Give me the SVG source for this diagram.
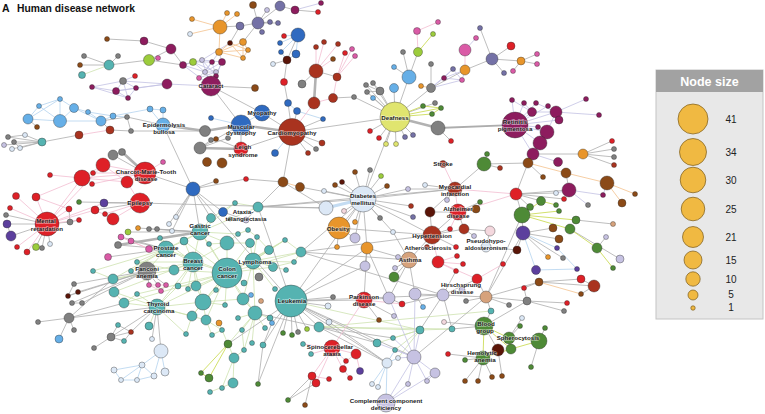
<svg xmlns="http://www.w3.org/2000/svg" width="765" height="414" viewBox="0 0 765 414">
<style>
.n circle{stroke:#2b2b2b;stroke-width:.5;stroke-opacity:.75}
.t{fill:#55b3b1}.r{fill:#de2027}.d{fill:#a9331f}.m{fill:#8d1c5e}.lb{fill:#66afe7}.b{fill:#2f6ac0}.y{fill:#e0e56f}.g{fill:#4e8a36}.br{fill:#8b4a17}.o{fill:#e8952b}.lv{fill:#c6c2e2}.pb{fill:#dce8f6}.gr{fill:#808080}.dm{fill:#5a1508}.pk{fill:#da5aa6}.lm{fill:#9ccc3c}.pu{fill:#5c3f9d}.tn{fill:#d6a27c}.sl{fill:#7471a6}.pp{fill:#f4d8de}
#edges path{fill:none;stroke-linecap:round}
.eg{stroke:#adadad;stroke-width:.8}
.egt{stroke:#b2b2b2;stroke-width:2.6}
.eb{stroke:#b4d3ef;stroke-width:.8}
.ebt{stroke:#c4dcf2;stroke-width:3.2}
.el{stroke:#c3c1e3;stroke-width:.8}
.ep{stroke:#f3bdd1;stroke-width:.8}
.eo{stroke:#f5c89a;stroke-width:.9}
.ey{stroke:#cddc5a;stroke-width:.9}
.ec{stroke:#cbe0ab;stroke-width:.75}
.lbl{font-family:"Liberation Sans",Arial,sans-serif;font-weight:bold;font-size:6.2px;fill:#1c1c1c;text-anchor:middle;stroke:#fff;stroke-width:1.4px;stroke-opacity:.5;paint-order:stroke}
.lc{fill:#f0b942;stroke:#7a5a1a;stroke-width:.7}
.ln{font-family:"Liberation Sans",Arial,sans-serif;font-size:10px;fill:#222;text-anchor:middle}
</style>
<rect width="765" height="414" fill="#fff"/>
<g id="title" font-family="'Liberation Sans',Arial,sans-serif" font-weight="bold" fill="#111">
<text x="2" y="12" font-size="10.5">A</text>
<text x="17" y="12" font-size="10.3">Human disease network</text>
</g>
<g id="edges">
<path class="ec" d="M227 273L193 262M227 273L253 261M227 273L227 243M227 273L250 243M227 273L203 302M227 273L196 286M227 273L174 270M227 273L243 299M227 273L255 313M227 273L273 267M227 273L209 244M227 273L184 241M227 273L200 232M227 273L166 249M227 273L244 283M227 273L216 290M227 273L225 305M227 273L269 250M227 273L285 240M227 273L301 252M227 273L157 307M227 273L137 294M227 273L124 303M227 273L206 320M227 273L192 316M193 262L166 249M193 262L200 232M193 262L174 270M193 262L184 241M193 262L178 286M193 262L188 289M193 262L203 302M193 262L157 307M193 262L227 243M193 262L113 279M193 262L114 292M193 262L160 238M193 262L137 262M253 261L250 243M253 261L269 250M253 261L273 267M253 261L294 262M253 261L286 270M253 261L301 252M253 261L285 240M253 261L257 237M253 261L243 299M253 261L255 313M253 261L275 289M200 232L211 218M200 232L227 243M200 232L238 234M200 232L184 241M200 232L209 244M200 232L235 203M200 232L258 207M200 232L166 249M166 249L160 238M166 249L137 262M166 249L131 271M166 249L113 279M166 249L93 271M166 249L184 241M166 249L147 271M157 307L149 326M157 307L124 303M157 307L137 294M157 307L114 292M157 307L192 316M157 307L186 334M157 307L206 320M157 307L203 302M157 307L178 286M203 302L192 316M203 302L206 320M203 302L225 305M203 302L216 290M203 302L196 286M255 313L265 328M255 313L270 318M255 313L242 330M255 313L238 318M255 313L244 350M255 313L252 343M113 279L93 271M114 292L124 303M124 303L137 294M242 330L244 350M222 330L212 335M206 320L222 330M206 320L212 335M244 350L234 358M186 334L192 316M211 218L235 203M235 203L258 207M227 243L238 234M238 234L248 230M248 230L257 237M257 237L269 250M269 250L285 240M285 240L301 252M227 243L250 243M319 327L420 330M319 327L452 329M319 327L491 311M291 301L420 330M377 343L420 330M393 338L420 330M395 350L420 330M398 358L420 330M420 330L452 329M228 344L234 358M234 358L233 383M234 358L222 388M233 383L210 392M228 344L255 313M228 344L219 323M109 65L82 75M174 270L113 279M174 270L137 262M196 286L178 286M193 262L196 286M203 302L243 299M243 299L255 313M227 243L209 244M301 252L294 262M273 267L294 262"/>
<path class="eg" d="M109 65L84 56M109 65L80 65M109 65L118 56M109 65L149 60M149 60L171 49M149 60L158 58M149 60L183 65M144 41L107 39M144 41L171 49M171 49L183 65M183 65L193 62M211 86L255 88M211 86L262 113M211 86L241 125M258 23L240 26M258 23L280 6M258 23L253 5M258 23L267 10M258 23L270 22M258 23L262 32M258 23L278 23M258 23L243 42M280 6L295 10M295 10L318 12M240 26L230 43M220 27L240 26M101 121L127 117M127 117L163 125M127 117L131 131M131 131L110 130M110 130L101 121M28 119L37 127M131 131L205 131M42 142L8 137M42 142L25 135M42 142L14 142M42 142L12 149M42 142L20 148M42 142L4 145M8 137L25 135M14 142L20 148M79 135L42 142M262 113L292 132M200 148L211 140M200 148L228 138M241 149L216 139M241 149L241 125M200 148L241 125M241 149L292 132M287 60L273 64M287 60L284 82M284 82L288 103M288 103L292 132M297 111L292 132M323 119L292 132M298 35L287 60M316 71L302 84M316 71L337 77M333 98L354 97M354 97L395 117M292 132L395 117M292 132L322 143M292 132L316 149M292 132L308 153M292 132L283 182M395 117L380 91M395 117L366 85M395 117L373 83M395 117L367 92M395 117L373 98M395 117L394 88M395 117L409 77M409 77L403 52M409 77L418 52M409 77L394 67M380 91L366 85M380 91L373 83M380 91L367 92M395 117L431 88M431 88L431 64M431 88L465 70M465 70L492 59M395 117L435 103M395 117L370 131M395 117L379 138M395 117L386 144M395 117L396 144M395 117L405 137M395 117L413 135M438 128L451 141M395 117L363 199M492 59L480 28M492 59L504 73M492 59L511 46M492 59L521 61M521 61L537 54M521 61L537 64M521 61L513 71M533 154L583 154M583 154L612 141M583 154L614 149M583 154L614 157M583 154L614 165M528 163L533 154M528 163L484 164M528 163L516 194M528 163L543 177M516 194L556 193M516 194L541 201M516 194L564 199M516 194L530 207M516 194L522 215M566 173L569 190M569 190L516 194M522 215L523 233M523 233L553 228M523 233L559 239M523 233L517 250M523 233L548 257M523 233L563 258M570 229L620 259M576 220L613 224M597 248L606 237M484 164L487 154M484 164L500 168M484 164L455 189M455 189L430 212M455 189L363 199M455 189L425 185M455 189L408 189M455 189L447 200M458 212L476 209M458 212L480 202M458 212L464 229M458 212L430 212M458 212L432 235M432 235L430 212M432 235L450 229M432 235L363 199M432 235L339 228M432 235L456 247M432 235L464 229M464 229L474 236M464 229L490 231M490 231L486 247M486 247L517 250M432 235L409 260M409 260L395 268M409 260L394 277M409 260L389 298M409 260L415 294M409 260L367 248M477 279L486 297M486 297L443 295M443 295L415 294M486 297L466 301M486 297L491 311M486 297L509 305M486 297L522 215M486 297L539 282M486 297L527 301M486 297L523 233M443 295L452 329M443 295L420 330M443 295L402 304M415 294L423 307M389 298L402 304M484 326L491 311M484 326L452 329M484 326L444 322M484 326L527 301M527 301L524 288M527 301L567 303M527 301L564 311M539 282L581 279M539 282L594 286M581 279L594 286M594 286L581 294M539 282L524 288M483 358L465 360M483 358L448 354M483 358L465 381M483 358L478 381M483 358L492 377M498 350L502 376M483 358L498 350M484 326L498 350M539 341L531 367M509 338L520 326M509 338L522 318M539 341L545 328M443 295L477 279M443 295L456 271M363 199L324 191M363 199L335 185M363 199L342 182M363 199L355 172M363 199L370 170M363 199L381 176M363 199L387 186M363 199L344 211M363 199L339 228M363 199L355 222M363 199L380 218M363 199L367 248M363 199L355 238M363 199L408 189M363 199L411 206M363 199L413 217M363 199L393 232M363 199L300 187M363 199L258 207M363 199L301 252M363 199L291 301M326 208L258 207M326 208L283 182M339 228L337 247M339 228L355 238M367 248L365 266M367 248L389 298M367 248L291 301M365 266L291 301M398 257L409 260M393 232L409 260M145 173L113 155M113 155L122 152M145 173L193 189M193 189L216 181M193 189L246 179M246 179L283 182M193 189L200 232M193 189L211 218M193 189L172 231M193 189L176 217M193 189L169 224M193 189L291 301M140 203L104 203M140 203L79 202M140 203L326 208M140 203L95 210M47 224L6 215M47 224L7 224M47 224L11 236M47 224L36 247M47 224L42 248M47 224L50 244M47 224L70 222M70 222L79 220M70 222L69 209M11 236L7 224M200 232L149 229M200 232L157 229M200 232L138 228M200 232L128 232M166 249L121 237M166 249L131 241M166 249L149 249M166 249L108 257M166 249L118 245M147 271L74 284M147 271L78 292M147 271L68 296M147 271L72 303M147 271L82 303M68 296L78 292M72 303L82 303M74 284L68 296M147 271L149 285M147 271L158 285M147 271L166 285M113 279L69 318M124 303L69 318M157 307L69 318M157 307L111 337M69 318L38 322M69 318L74 330M69 318L59 339M111 337L94 348M111 337L131 332M111 337L118 325M111 337L124 341M131 332L118 325M124 341L131 332M157 307L131 332M157 307L161 351M157 307L152 339M291 301L333 297M291 301L328 306M291 301L364 300M291 301L329 322M291 301L319 327M291 301L283 333M291 301L292 335M291 301L298 332M291 301L307 329M291 301L272 323M291 301L263 345M291 301L258 384M291 301L228 344M291 301L377 343M291 301L387 363M291 301L414 357M291 301L258 207M319 327L377 343M319 327L393 338M319 327L387 363M329 322L387 363M272 323L263 345M263 345L258 384M364 300L379 320M364 300L394 316M364 300L389 298M364 300L367 248M312 376L288 400M312 376L305 405M316 383L288 400M246 220L223 212M246 220L258 207M223 212L193 189M258 207L283 182M301 252L409 260M301 252L443 295M291 301L443 295M258 207L455 189M301 252L432 235M414 357L486 297M255 313L319 327M163 125L193 189"/>
<path class="egt" d="M163 125L205 131M205 131L241 125M241 125L292 132M200 148L241 149M145 173L122 152M200 232L118 245M395 117L438 128M316 71L314 103"/>
<path class="eg" style="stroke-width:1.8" d="M438 128L515 125"/>
<path class="eb" d="M60 121L28 119M60 121L74 108M60 121L101 121M60 121L39 106M60 121L60 99M74 108L60 99M74 108L101 121M74 108L88 112M101 121L88 112M101 121L113 116M28 119L39 106M39 106L60 99M113 116L150 109M150 109L163 110M163 110L163 125M150 109L163 125M113 116L127 117M88 112L113 116M28 119L60 99M211 118L241 125M241 125L262 113M298 35L280 43M298 35L281 52M298 35L296 54M298 35L284 36M296 54L287 60M281 52L287 60M292 132L275 153M523 233L557 248M523 233L536 270M536 270L577 269M557 248L577 269M387 363L372 384M387 363L378 387M387 363L386 403M387 363L398 358M387 363L395 350M161 351L142 365M161 351L154 376M161 351L165 372M142 365L114 370M142 365L121 380M142 365L137 380M154 376L137 380M114 370L121 380M121 380L137 380M142 365L154 376M288 103L297 111M297 111L323 119"/>
<path class="ebt" d="M363 199L326 208"/>
<path class="el" d="M183 65L202 60M183 65L205 72M193 62L212 62M193 62L216 72M202 60L222 62M202 60L216 76M212 62L205 72M212 62L199 78M222 62L205 72M222 62L211 86M205 72L216 72M199 78L216 72M183 65L211 86M202 60L211 86M216 76L222 62M193 62L205 72M212 62L216 76M222 62L219 52M212 62L219 52M202 60L230 43M123 81L92 87M123 81L116 91M123 81L136 88M123 81L128 98M123 81L167 84M116 91L136 88M116 91L128 98M136 88L128 98M92 87L116 91M92 87L128 98M167 84L116 91M167 84L211 86M135 76L123 81M136 88L167 84M295 10L321 3M431 88L444 78M431 88L453 69M431 88L462 80M444 78L453 69M453 69L462 80M444 78L462 80M444 78L465 70M462 80L465 70M465 50L476 38M515 125L556 112M515 125L532 112M515 125L547 132M515 125L559 120M515 125L512 100M515 125L524 103M515 125L536 103M515 125L548 106M515 125L538 127M556 112L586 99M556 112L599 115M547 132L556 112M532 112L556 112M515 125L540 143M515 125L533 154M540 143L533 154M533 154L558 162M540 143L547 132M512 100L532 112M524 103L532 112M536 103L556 112M569 190L603 195M569 190L588 205M569 190L556 193M607 183L603 195M414 357L377 343M414 357L393 338M414 357L395 350M414 357L398 358M414 357L435 373M414 357L408 384M414 357L427 381M414 357L386 403M435 373L386 403M408 384L386 403M427 381L435 373M414 357L420 330M414 357L415 294M414 357L389 298"/>
<path class="ep" d="M110 130L79 135M316 71L316 47M316 71L324 42M316 71L338 44M337 77L345 53M337 77L352 49M337 77L355 56M316 71L333 59M314 103L292 132M314 103L333 98M333 98L337 77M418 52L417 31M417 31L438 22M465 70L465 50M516 194L455 189M516 194L458 212M432 235L438 262M438 262L457 256M438 262L463 264M438 262L456 271M438 262L477 279M477 279L503 264M455 189L443 164M458 212L450 229M455 189L458 212M145 173L127 182M145 173L82 178M145 173L103 165M145 173L93 173M145 173L92 184M82 178L50 175M145 173L163 162M103 165L82 178M127 182L82 178M127 182L103 165M140 203L113 219M140 203L105 214M113 219L95 210M140 203L127 182M47 224L36 197M47 224L16 196M47 224L10 208M47 224L17 247M47 224L27 252M47 224L69 209M47 224L79 220M47 224L95 210M47 224L104 203M36 197L82 178M47 224L82 178M47 224L103 165M36 197L69 209M149 249L131 241M121 237L131 241M149 249L121 237M149 285L158 285M158 285L166 285M149 285L161 291M166 285L161 291M364 300L332 348M364 300L402 304M332 348L356 354M332 348L303 344M332 348L311 354M332 348L346 361M332 348L343 369M332 348L312 376M332 348L316 383M356 354L360 371M356 354L346 361M312 376L329 379M343 369L350 378M346 361L343 369"/>
<path class="eo" d="M220 27L192 19M220 27L190 34M220 27L227 13M220 27L237 14M220 27L219 52M219 52L243 42M219 52L243 58M219 52L248 50M243 42L248 50M243 42L243 58M248 50L243 58M230 43L243 58M230 43L248 50M219 52L230 43M528 163L566 173M566 173L607 183M607 183L635 194M607 183L622 203M539 282L581 294M283 182L300 187M431 88L421 86"/>
<path class="ey" d="M395 117L423 106M395 117L441 108M395 117L432 114M423 106L441 108M441 108L432 114M418 52L433 34M522 215L541 201M522 215L530 207M522 215L559 211M522 215L576 220M522 215L570 229M570 229L597 248M597 248L613 268M541 201L556 205M484 326L509 338M484 326L511 349M509 338L539 341M539 341L511 349M484 326L483 358M509 338L511 349M483 358L511 349M228 344L201 373M228 344L209 378M201 373L209 378"/>
</g>
<g id="nodes" class="n">
<g id="n1"><circle class="br" cx="107" cy="39" r="2.5"/></g>
<g id="n2"><circle class="m" cx="144" cy="41" r="4"/></g>
<g id="n3"><circle class="m" cx="171" cy="49" r="5"/></g>
<g id="n4"><circle class="lm" cx="149" cy="60" r="5.5"/></g>
<g id="n5"><circle class="pk" cx="158" cy="58" r="2.5"/></g>
<g id="n6"><circle class="t" cx="109" cy="65" r="5"/></g>
<g id="n7"><circle class="gr" cx="84" cy="56" r="2.5"/></g>
<g id="n8"><circle class="br" cx="80" cy="65" r="2.5"/></g>
<g id="n9"><circle class="gr" cx="118" cy="56" r="2.5"/></g>
<g id="n10"><circle class="t" cx="82" cy="75" r="3.5"/></g>
<g id="n11"><circle class="m" cx="183" cy="65" r="3.5"/></g>
<g id="n12"><circle class="lm" cx="193" cy="62" r="3.5"/></g>
<g id="n13"><circle class="lv" cx="202" cy="60" r="2.5"/></g>
<g id="n14"><circle class="m" cx="212" cy="62" r="2.5"/></g>
<g id="n15"><circle class="m" cx="222" cy="62" r="3.5"/></g>
<g id="n16"><circle class="lv" cx="205" cy="72" r="2.5"/></g>
<g id="n17"><circle class="lv" cx="216" cy="72" r="2.5"/></g>
<g id="n18"><circle class="m" cx="216" cy="76" r="2.5"/></g>
<g id="n19"><circle class="pk" cx="199" cy="78" r="2.5"/></g>
<g id="n21"><circle class="gr" cx="123" cy="81" r="3.5"/></g>
<g id="n22"><circle class="r" cx="135" cy="76" r="2.5"/></g>
<g id="n23"><circle class="m" cx="92" cy="87" r="2.5"/></g>
<g id="n24"><circle class="m" cx="116" cy="91" r="3.5"/></g>
<g id="n25"><circle class="m" cx="136" cy="88" r="2.5"/></g>
<g id="n26"><circle class="m" cx="128" cy="98" r="2.5"/></g>
<g id="n27"><circle class="m" cx="167" cy="84" r="5"/></g>
<g id="n28"><circle class="o" cx="220" cy="27" r="7"/></g>
<g id="n29"><circle class="o" cx="192" cy="19" r="2.5"/></g>
<g id="n30"><circle class="pb" cx="190" cy="34" r="2.5"/></g>
<g id="n31"><circle class="o" cx="227" cy="13" r="2.5"/></g>
<g id="n32"><circle class="o" cx="237" cy="14" r="2.5"/></g>
<g id="n33"><circle class="o" cx="219" cy="52" r="3.5"/></g>
<g id="n34"><circle class="o" cx="243" cy="42" r="3.5"/></g>
<g id="n35"><circle class="dm" cx="230" cy="43" r="2.5"/></g>
<g id="n36"><circle class="o" cx="248" cy="50" r="2.5"/></g>
<g id="n37"><circle class="o" cx="243" cy="58" r="2.5"/></g>
<g id="n39"><circle class="sl" cx="240" cy="26" r="4"/></g>
<g id="n40"><circle class="sl" cx="258" cy="23" r="6"/></g>
<g id="n41"><circle class="sl" cx="280" cy="6" r="5"/></g>
<g id="n42"><circle class="m" cx="295" cy="10" r="4"/></g>
<g id="n43"><circle class="r" cx="318" cy="12" r="2.5"/></g>
<g id="n44"><circle class="m" cx="321" cy="3" r="2.5"/></g>
<g id="n45"><circle class="br" cx="253" cy="5" r="3.5"/></g>
<g id="n46"><circle class="lv" cx="267" cy="10" r="2.5"/></g>
<g id="n47"><circle class="sl" cx="270" cy="22" r="2.5"/></g>
<g id="n47b"><circle class="sl" cx="278" cy="23" r="2.5"/></g>
<g id="n48"><circle class="sl" cx="262" cy="32" r="2.5"/></g>
<g id="n49"><circle class="br" cx="255" cy="88" r="3.5"/></g>
<g id="n50"><circle class="lb" cx="60" cy="121" r="6.5"/></g>
<g id="n51"><circle class="lb" cx="28" cy="119" r="5"/></g>
<g id="n52"><circle class="lb" cx="74" cy="108" r="4.5"/></g>
<g id="n53"><circle class="lb" cx="101" cy="121" r="5"/></g>
<g id="n54"><circle class="lb" cx="39" cy="106" r="2.5"/></g>
<g id="n55"><circle class="lb" cx="60" cy="99" r="2.5"/></g>
<g id="n56"><circle class="lb" cx="88" cy="112" r="2.5"/></g>
<g id="n57"><circle class="lb" cx="113" cy="116" r="3"/></g>
<g id="n58"><circle class="lb" cx="150" cy="109" r="3"/></g>
<g id="n59"><circle class="lb" cx="163" cy="110" r="3"/></g>
<g id="n60"><circle class="gr" cx="127" cy="117" r="2.5"/></g>
<g id="n61"><circle class="br" cx="37" cy="127" r="2.5"/></g>
<g id="n62"><circle class="d" cx="110" cy="130" r="4"/></g>
<g id="n64"><circle class="gr" cx="131" cy="131" r="2.5"/></g>
<g id="n65"><circle class="gr" cx="205" cy="131" r="5.5"/></g>
<g id="n66"><circle class="b" cx="211" cy="118" r="2.5"/></g>
<g id="n69"><circle class="d" cx="79" cy="135" r="4"/></g>
<g id="n70"><circle class="gr" cx="8" cy="137" r="2.5"/></g>
<g id="n71"><circle class="pb" cx="25" cy="135" r="2.5"/></g>
<g id="n72"><circle class="lv" cx="4" cy="145" r="2.5"/></g>
<g id="n73"><circle class="pb" cx="12" cy="149" r="2.5"/></g>
<g id="n74"><circle class="pb" cx="20" cy="148" r="2.5"/></g>
<g id="n75"><circle class="gr" cx="14" cy="142" r="2.5"/></g>
<g id="n76"><circle class="t" cx="42" cy="142" r="4"/></g>
<g id="n80"><circle class="gr" cx="200" cy="148" r="6"/></g>
<g id="n81"><circle class="br" cx="207" cy="162" r="4.5"/></g>
<g id="n82"><circle class="br" cx="222" cy="163" r="5"/></g>
<g id="n84"><circle class="gr" cx="211" cy="140" r="2.5"/></g>
<g id="n85"><circle class="gr" cx="228" cy="138" r="2.5"/></g>
<g id="n86"><circle class="br" cx="216" cy="139" r="2.5"/></g>
<g id="n90"><circle class="b" cx="298" cy="35" r="7"/></g>
<g id="n91"><circle class="b" cx="280" cy="43" r="2.5"/></g>
<g id="n92"><circle class="b" cx="281" cy="52" r="2.5"/></g>
<g id="n93"><circle class="b" cx="296" cy="54" r="4"/></g>
<g id="n94"><circle class="r" cx="284" cy="36" r="2.5"/></g>
<g id="n95"><circle class="dm" cx="287" cy="60" r="4"/></g>
<g id="n96"><circle class="pb" cx="273" cy="64" r="2.5"/></g>
<g id="n97"><circle class="r" cx="284" cy="82" r="3.5"/></g>
<g id="n98"><circle class="d" cx="316" cy="71" r="7"/></g>
<g id="n99"><circle class="d" cx="337" cy="77" r="4"/></g>
<g id="n100"><circle class="d" cx="314" cy="103" r="6"/></g>
<g id="n101"><circle class="d" cx="333" cy="98" r="4.5"/></g>
<g id="n102"><circle class="d" cx="316" cy="47" r="2.5"/></g>
<g id="n103"><circle class="d" cx="324" cy="42" r="2.5"/></g>
<g id="n104"><circle class="d" cx="338" cy="44" r="2.5"/></g>
<g id="n105"><circle class="r" cx="345" cy="53" r="2.5"/></g>
<g id="n106"><circle class="pk" cx="352" cy="49" r="2.5"/></g>
<g id="n107"><circle class="pk" cx="355" cy="56" r="2.5"/></g>
<g id="n108"><circle class="br" cx="333" cy="59" r="2.5"/></g>
<g id="n109"><circle class="gr" cx="302" cy="84" r="4"/></g>
<g id="n110"><circle class="gr" cx="354" cy="97" r="2.5"/></g>
<g id="n111"><circle class="b" cx="288" cy="103" r="3.5"/></g>
<g id="n112"><circle class="b" cx="297" cy="111" r="3.5"/></g>
<g id="n113"><circle class="b" cx="323" cy="119" r="2.5"/></g>
<g id="n115"><circle class="d" cx="322" cy="143" r="3"/></g>
<g id="n116"><circle class="gr" cx="316" cy="149" r="2.5"/></g>
<g id="n117"><circle class="d" cx="308" cy="153" r="2.5"/></g>
<g id="n118"><circle class="b" cx="275" cy="153" r="3.5"/></g>
<g id="n121"><circle class="lb" cx="409" cy="77" r="7"/></g>
<g id="n122"><circle class="lb" cx="394" cy="88" r="4.5"/></g>
<g id="n123"><circle class="gr" cx="380" cy="91" r="4"/></g>
<g id="n124"><circle class="gr" cx="366" cy="85" r="2.5"/></g>
<g id="n125"><circle class="gr" cx="373" cy="83" r="2.5"/></g>
<g id="n126"><circle class="gr" cx="367" cy="92" r="2.5"/></g>
<g id="n127"><circle class="lb" cx="373" cy="98" r="2.5"/></g>
<g id="n128"><circle class="lb" cx="394" cy="67" r="2.5"/></g>
<g id="n129"><circle class="lm" cx="418" cy="52" r="4.5"/></g>
<g id="n130"><circle class="gr" cx="403" cy="52" r="2.5"/></g>
<g id="n131"><circle class="pk" cx="417" cy="31" r="3.5"/></g>
<g id="n132"><circle class="lm" cx="433" cy="34" r="2.5"/></g>
<g id="n133"><circle class="pk" cx="438" cy="22" r="2.5"/></g>
<g id="n134"><circle class="gr" cx="431" cy="88" r="4.5"/></g>
<g id="n135"><circle class="gr" cx="431" cy="64" r="2.5"/></g>
<g id="n136"><circle class="o" cx="421" cy="86" r="2.5"/></g>
<g id="n137"><circle class="gr" cx="435" cy="103" r="2.5"/></g>
<g id="n138"><circle class="g" cx="423" cy="106" r="2.5"/></g>
<g id="n139"><circle class="g" cx="441" cy="108" r="2.5"/></g>
<g id="n140"><circle class="g" cx="432" cy="114" r="2.5"/></g>
<g id="n141"><circle class="gr" cx="438" cy="128" r="7"/></g>
<g id="n142"><circle class="m" cx="444" cy="78" r="2.5"/></g>
<g id="n143"><circle class="sl" cx="453" cy="69" r="2.5"/></g>
<g id="n144"><circle class="pk" cx="462" cy="80" r="2.5"/></g>
<g id="n145"><circle class="o" cx="465" cy="70" r="5"/></g>
<g id="n146"><circle class="pk" cx="465" cy="50" r="6"/></g>
<g id="n147"><circle class="pk" cx="476" cy="38" r="2.5"/></g>
<g id="n148"><circle class="sl" cx="480" cy="28" r="2.5"/></g>
<g id="n149"><circle class="sl" cx="492" cy="59" r="6"/></g>
<g id="n150"><circle class="sl" cx="504" cy="73" r="2.5"/></g>
<g id="n151"><circle class="r" cx="511" cy="46" r="4"/></g>
<g id="n152"><circle class="o" cx="521" cy="61" r="4"/></g>
<g id="n153"><circle class="pk" cx="537" cy="54" r="2.5"/></g>
<g id="n154"><circle class="pk" cx="537" cy="64" r="2.5"/></g>
<g id="n155"><circle class="pk" cx="513" cy="71" r="2.5"/></g>
<g id="n157"><circle class="r" cx="370" cy="131" r="2.5"/></g>
<g id="n158"><circle class="r" cx="379" cy="138" r="2.5"/></g>
<g id="n159"><circle class="y" cx="386" cy="144" r="2.5"/></g>
<g id="n160"><circle class="y" cx="396" cy="144" r="2.5"/></g>
<g id="n161"><circle class="sl" cx="405" cy="137" r="2.5"/></g>
<g id="n162"><circle class="sl" cx="413" cy="135" r="2.5"/></g>
<g id="n163"><circle class="r" cx="451" cy="141" r="2.5"/></g>
<g id="n171"><circle class="m" cx="556" cy="112" r="6"/></g>
<g id="n172"><circle class="m" cx="532" cy="112" r="4.5"/></g>
<g id="n173"><circle class="m" cx="547" cy="132" r="7"/></g>
<g id="n174"><circle class="m" cx="559" cy="120" r="4"/></g>
<g id="n175"><circle class="m" cx="512" cy="100" r="2.5"/></g>
<g id="n176"><circle class="m" cx="524" cy="103" r="2.5"/></g>
<g id="n177"><circle class="m" cx="536" cy="103" r="2.5"/></g>
<g id="n178"><circle class="m" cx="548" cy="106" r="2.5"/></g>
<g id="n179"><circle class="m" cx="538" cy="127" r="2.5"/></g>
<g id="n180"><circle class="m" cx="586" cy="99" r="2.5"/></g>
<g id="n181"><circle class="m" cx="599" cy="115" r="2.5"/></g>
<g id="n182"><circle class="m" cx="540" cy="143" r="7"/></g>
<g id="n183"><circle class="m" cx="533" cy="154" r="6"/></g>
<g id="n184"><circle class="m" cx="558" cy="162" r="4.5"/></g>
<g id="n185"><circle class="br" cx="528" cy="163" r="5"/></g>
<g id="n186"><circle class="o" cx="583" cy="154" r="5"/></g>
<g id="n187"><circle class="r" cx="612" cy="141" r="2.5"/></g>
<g id="n188"><circle class="gr" cx="614" cy="149" r="2.5"/></g>
<g id="n189"><circle class="gr" cx="614" cy="157" r="2.5"/></g>
<g id="n190"><circle class="d" cx="614" cy="165" r="2.5"/></g>
<g id="n191"><circle class="br" cx="543" cy="177" r="2.5"/></g>
<g id="n192"><circle class="br" cx="566" cy="173" r="5"/></g>
<g id="n193"><circle class="br" cx="607" cy="183" r="7"/></g>
<g id="n194"><circle class="m" cx="569" cy="190" r="7"/></g>
<g id="n195"><circle class="r" cx="516" cy="194" r="6"/></g>
<g id="n196"><circle class="pb" cx="556" cy="193" r="2.5"/></g>
<g id="n197"><circle class="g" cx="541" cy="201" r="4.5"/></g>
<g id="n198"><circle class="g" cx="556" cy="205" r="2.5"/></g>
<g id="n199"><circle class="r" cx="564" cy="199" r="2.5"/></g>
<g id="n200"><circle class="br" cx="635" cy="194" r="2.5"/></g>
<g id="n201"><circle class="br" cx="622" cy="203" r="4"/></g>
<g id="n202"><circle class="m" cx="603" cy="195" r="2.5"/></g>
<g id="n203"><circle class="gr" cx="588" cy="205" r="2.5"/></g>
<g id="n204"><circle class="g" cx="530" cy="207" r="3.5"/></g>
<g id="n205"><circle class="g" cx="522" cy="215" r="8"/></g>
<g id="n206"><circle class="g" cx="559" cy="211" r="2.5"/></g>
<g id="n207"><circle class="g" cx="576" cy="220" r="4"/></g>
<g id="n208"><circle class="g" cx="570" cy="229" r="5"/></g>
<g id="n209"><circle class="pu" cx="523" cy="233" r="7"/></g>
<g id="n210"><circle class="br" cx="553" cy="228" r="4"/></g>
<g id="n211"><circle class="br" cx="559" cy="239" r="4"/></g>
<g id="n212"><circle class="tn" cx="613" cy="224" r="2.5"/></g>
<g id="n213"><circle class="lv" cx="606" cy="237" r="2.5"/></g>
<g id="n214"><circle class="pu" cx="557" cy="248" r="2.5"/></g>
<g id="n215"><circle class="g" cx="597" cy="248" r="5"/></g>
<g id="n216"><circle class="o" cx="548" cy="257" r="2.5"/></g>
<g id="n217"><circle class="gr" cx="563" cy="258" r="2.5"/></g>
<g id="n218"><circle class="lv" cx="620" cy="259" r="4"/></g>
<g id="n219"><circle class="dm" cx="517" cy="250" r="4"/></g>
<g id="n220"><circle class="g" cx="613" cy="268" r="2.5"/></g>
<g id="n231"><circle class="g" cx="484" cy="164" r="7"/></g>
<g id="n232"><circle class="g" cx="487" cy="154" r="2.5"/></g>
<g id="n233"><circle class="d" cx="500" cy="168" r="2.5"/></g>
<g id="n235"><circle class="dm" cx="430" cy="212" r="5"/></g>
<g id="n237"><circle class="br" cx="476" cy="209" r="4"/></g>
<g id="n238"><circle class="g" cx="480" cy="202" r="2.5"/></g>
<g id="n239"><circle class="d" cx="464" cy="229" r="5"/></g>
<g id="n240"><circle class="r" cx="450" cy="229" r="2.5"/></g>
<g id="n241"><circle class="pp" cx="490" cy="231" r="5"/></g>
<g id="n242"><circle class="lv" cx="474" cy="236" r="2.5"/></g>
<g id="n246"><circle class="r" cx="456" cy="247" r="2.5"/></g>
<g id="n248"><circle class="r" cx="438" cy="262" r="6"/></g>
<g id="n249"><circle class="r" cx="457" cy="256" r="2.5"/></g>
<g id="n250"><circle class="r" cx="463" cy="264" r="2.5"/></g>
<g id="n251"><circle class="r" cx="456" cy="271" r="2.5"/></g>
<g id="n252"><circle class="r" cx="503" cy="264" r="2.5"/></g>
<g id="n253"><circle class="lv" cx="395" cy="268" r="2.5"/></g>
<g id="n254"><circle class="g" cx="394" cy="277" r="5"/></g>
<g id="n255"><circle class="lv" cx="389" cy="298" r="6"/></g>
<g id="n256"><circle class="lv" cx="415" cy="294" r="6"/></g>
<g id="n257"><circle class="r" cx="402" cy="304" r="3"/></g>
<g id="n258"><circle class="lb" cx="423" cy="307" r="2.5"/></g>
<g id="n259"><circle class="r" cx="477" cy="279" r="5"/></g>
<g id="n260"><circle class="lv" cx="443" cy="295" r="6"/></g>
<g id="n262"><circle class="tn" cx="486" cy="297" r="6"/></g>
<g id="n263"><circle class="gr" cx="466" cy="301" r="2.5"/></g>
<g id="n264"><circle class="t" cx="491" cy="311" r="3"/></g>
<g id="n265"><circle class="pp" cx="444" cy="322" r="2.5"/></g>
<g id="n266"><circle class="t" cx="452" cy="329" r="3"/></g>
<g id="n268"><circle class="t" cx="420" cy="330" r="4"/></g>
<g id="n269"><circle class="gr" cx="509" cy="305" r="2.5"/></g>
<g id="n270"><circle class="pu" cx="536" cy="270" r="4.5"/></g>
<g id="n271"><circle class="pu" cx="577" cy="269" r="2.5"/></g>
<g id="n272"><circle class="br" cx="539" cy="282" r="4"/></g>
<g id="n273"><circle class="r" cx="581" cy="279" r="4"/></g>
<g id="n274"><circle class="d" cx="594" cy="286" r="6"/></g>
<g id="n275"><circle class="br" cx="581" cy="294" r="2.5"/></g>
<g id="n276"><circle class="r" cx="524" cy="288" r="2.5"/></g>
<g id="n277"><circle class="gr" cx="527" cy="301" r="4"/></g>
<g id="n278"><circle class="r" cx="567" cy="303" r="2.5"/></g>
<g id="n279"><circle class="gr" cx="564" cy="311" r="2.5"/></g>
<g id="n280"><circle class="pb" cx="522" cy="318" r="2.5"/></g>
<g id="n281"><circle class="g" cx="520" cy="326" r="2.5"/></g>
<g id="n282"><circle class="g" cx="545" cy="328" r="2.5"/></g>
<g id="n284"><circle class="g" cx="539" cy="341" r="8"/></g>
<g id="n285"><circle class="g" cx="511" cy="349" r="5"/></g>
<g id="n286"><circle class="g" cx="531" cy="367" r="2.5"/></g>
<g id="n287"><circle class="br" cx="502" cy="376" r="2.5"/></g>
<g id="n289"><circle class="dm" cx="498" cy="350" r="6"/></g>
<g id="n290"><circle class="g" cx="465" cy="360" r="2.5"/></g>
<g id="n291"><circle class="r" cx="448" cy="354" r="2.5"/></g>
<g id="n292"><circle class="br" cx="465" cy="381" r="2.5"/></g>
<g id="n293"><circle class="br" cx="478" cy="381" r="2.5"/></g>
<g id="n294"><circle class="br" cx="492" cy="377" r="2.5"/></g>
<g id="n300"><circle class="lv" cx="408" cy="189" r="2.5"/></g>
<g id="n301"><circle class="pb" cx="425" cy="185" r="2.5"/></g>
<g id="n302"><circle class="lv" cx="447" cy="200" r="2.5"/></g>
<g id="n303"><circle class="d" cx="411" cy="206" r="2.5"/></g>
<g id="n304"><circle class="sl" cx="413" cy="217" r="2.5"/></g>
<g id="n305"><circle class="pb" cx="393" cy="232" r="2.5"/></g>
<g id="n310"><circle class="br" cx="283" cy="182" r="5"/></g>
<g id="n311"><circle class="br" cx="300" cy="187" r="4.5"/></g>
<g id="n312"><circle class="pb" cx="324" cy="191" r="2.5"/></g>
<g id="n313"><circle class="br" cx="335" cy="185" r="2.5"/></g>
<g id="n314"><circle class="dm" cx="342" cy="182" r="2.5"/></g>
<g id="n315"><circle class="br" cx="355" cy="172" r="2.5"/></g>
<g id="n316"><circle class="gr" cx="370" cy="170" r="2.5"/></g>
<g id="n317"><circle class="lm" cx="381" cy="176" r="2.5"/></g>
<g id="n318"><circle class="br" cx="387" cy="186" r="2.5"/></g>
<g id="n320"><circle class="pb" cx="326" cy="208" r="7"/></g>
<g id="n321"><circle class="pp" cx="344" cy="211" r="2.5"/></g>
<g id="n323"><circle class="o" cx="355" cy="222" r="2.5"/></g>
<g id="n324"><circle class="gr" cx="380" cy="218" r="2.5"/></g>
<g id="n325"><circle class="o" cx="367" cy="248" r="6"/></g>
<g id="n326"><circle class="lv" cx="355" cy="238" r="5"/></g>
<g id="n327"><circle class="o" cx="337" cy="247" r="2.5"/></g>
<g id="n328"><circle class="lv" cx="398" cy="257" r="2.5"/></g>
<g id="n329"><circle class="lv" cx="365" cy="266" r="5"/></g>
<g id="n330"><circle class="br" cx="216" cy="181" r="2.5"/></g>
<g id="n331"><circle class="r" cx="246" cy="179" r="2.5"/></g>
<g id="n340"><circle class="gr" cx="113" cy="155" r="5"/></g>
<g id="n341"><circle class="gr" cx="122" cy="152" r="3.5"/></g>
<g id="n343"><circle class="r" cx="127" cy="182" r="6"/></g>
<g id="n344"><circle class="r" cx="82" cy="178" r="8"/></g>
<g id="n345"><circle class="r" cx="103" cy="165" r="7"/></g>
<g id="n346"><circle class="r" cx="93" cy="173" r="2.5"/></g>
<g id="n347"><circle class="r" cx="92" cy="184" r="2.5"/></g>
<g id="n348"><circle class="r" cx="50" cy="175" r="2.5"/></g>
<g id="n349"><circle class="pk" cx="163" cy="162" r="2.5"/></g>
<g id="n350"><circle class="b" cx="193" cy="189" r="7"/></g>
<g id="n352"><circle class="pu" cx="104" cy="203" r="4"/></g>
<g id="n353"><circle class="g" cx="79" cy="202" r="2.5"/></g>
<g id="n354"><circle class="r" cx="95" cy="210" r="4"/></g>
<g id="n355"><circle class="r" cx="113" cy="219" r="6"/></g>
<g id="n356"><circle class="r" cx="105" cy="214" r="2.5"/></g>
<g id="n357"><circle class="r" cx="36" cy="197" r="4"/></g>
<g id="n358"><circle class="r" cx="16" cy="196" r="3.5"/></g>
<g id="n360"><circle class="r" cx="10" cy="208" r="2.5"/></g>
<g id="n361"><circle class="gr" cx="6" cy="215" r="2.5"/></g>
<g id="n362"><circle class="pu" cx="7" cy="224" r="4"/></g>
<g id="n363"><circle class="pu" cx="11" cy="236" r="5"/></g>
<g id="n364"><circle class="r" cx="17" cy="247" r="2.5"/></g>
<g id="n365"><circle class="lm" cx="36" cy="247" r="3.5"/></g>
<g id="n366"><circle class="gr" cx="42" cy="248" r="2.5"/></g>
<g id="n367"><circle class="pb" cx="50" cy="244" r="2.5"/></g>
<g id="n368"><circle class="r" cx="27" cy="252" r="3"/></g>
<g id="n369"><circle class="r" cx="69" cy="209" r="3"/></g>
<g id="n370"><circle class="gr" cx="70" cy="222" r="3"/></g>
<g id="n371"><circle class="r" cx="79" cy="220" r="2.5"/></g>
<g id="n380"><circle class="lm" cx="128" cy="232" r="3"/></g>
<g id="n381"><circle class="pk" cx="121" cy="237" r="3"/></g>
<g id="n382"><circle class="pk" cx="131" cy="241" r="3"/></g>
<g id="n383"><circle class="gr" cx="118" cy="245" r="3.5"/></g>
<g id="n384"><circle class="o" cx="138" cy="228" r="2.5"/></g>
<g id="n385"><circle class="gr" cx="149" cy="229" r="2.5"/></g>
<g id="n386"><circle class="gr" cx="157" cy="229" r="2.5"/></g>
<g id="n387"><circle class="pk" cx="149" cy="249" r="3.5"/></g>
<g id="n388"><circle class="pk" cx="108" cy="257" r="3.5"/></g>
<g id="n389"><circle class="pb" cx="172" cy="231" r="2.5"/></g>
<g id="n390"><circle class="pb" cx="176" cy="217" r="2.5"/></g>
<g id="n391"><circle class="pb" cx="169" cy="224" r="2.5"/></g>
<g id="n393"><circle class="t" cx="211" cy="218" r="4.5"/></g>
<g id="n394"><circle class="b" cx="223" cy="212" r="4.5"/></g>
<g id="n395"><circle class="g" cx="230" cy="219" r="2"/></g>
<g id="n397"><circle class="t" cx="258" cy="207" r="5"/></g>
<g id="n398"><circle class="t" cx="235" cy="203" r="2.5"/></g>
<g id="n403"><circle class="t" cx="227" cy="243" r="7"/></g>
<g id="n404"><circle class="t" cx="250" cy="243" r="4.5"/></g>
<g id="n405"><circle class="t" cx="238" cy="234" r="2.5"/></g>
<g id="n406"><circle class="t" cx="248" cy="230" r="2.5"/></g>
<g id="n407"><circle class="t" cx="257" cy="237" r="2.5"/></g>
<g id="n408"><circle class="t" cx="269" cy="250" r="4.5"/></g>
<g id="n409"><circle class="t" cx="301" cy="252" r="5"/></g>
<g id="n410"><circle class="t" cx="285" cy="240" r="2.5"/></g>
<g id="n411"><circle class="t" cx="184" cy="241" r="4"/></g>
<g id="n412"><circle class="t" cx="209" cy="244" r="2.5"/></g>
<g id="n413"><circle class="t" cx="273" cy="267" r="4.5"/></g>
<g id="n414"><circle class="gr" cx="259" cy="277" r="4"/></g>
<g id="n415"><circle class="t" cx="294" cy="262" r="2.5"/></g>
<g id="n416"><circle class="t" cx="286" cy="270" r="2.5"/></g>
<g id="n417"><circle class="t" cx="275" cy="289" r="2.5"/></g>
<g id="n418"><circle class="tn" cx="261" cy="301" r="2.5"/></g>
<g id="n419"><circle class="lb" cx="251" cy="295" r="2.5"/></g>
<g id="n420"><circle class="t" cx="203" cy="302" r="8"/></g>
<g id="n421"><circle class="t" cx="178" cy="286" r="3"/></g>
<g id="n422"><circle class="t" cx="188" cy="289" r="2.5"/></g>
<g id="n423"><circle class="t" cx="174" cy="270" r="5"/></g>
<g id="n424"><circle class="t" cx="196" cy="286" r="5"/></g>
<g id="n426"><circle class="t" cx="113" cy="279" r="5"/></g>
<g id="n427"><circle class="t" cx="93" cy="271" r="2.5"/></g>
<g id="n428"><circle class="gr" cx="74" cy="284" r="2.5"/></g>
<g id="n429"><circle class="dm" cx="68" cy="296" r="2.5"/></g>
<g id="n430"><circle class="dm" cx="78" cy="292" r="2.5"/></g>
<g id="n431"><circle class="gr" cx="72" cy="303" r="2.5"/></g>
<g id="n432"><circle class="gr" cx="82" cy="303" r="2.5"/></g>
<g id="n433"><circle class="t" cx="114" cy="292" r="5"/></g>
<g id="n434"><circle class="t" cx="124" cy="303" r="5"/></g>
<g id="n435"><circle class="t" cx="137" cy="294" r="2.5"/></g>
<g id="n436"><circle class="pk" cx="149" cy="285" r="2.5"/></g>
<g id="n437"><circle class="pk" cx="158" cy="285" r="2.5"/></g>
<g id="n438"><circle class="pk" cx="166" cy="285" r="2.5"/></g>
<g id="n439"><circle class="pk" cx="161" cy="291" r="2.5"/></g>
<g id="n441"><circle class="gr" cx="69" cy="318" r="5"/></g>
<g id="n442"><circle class="gr" cx="38" cy="322" r="2.5"/></g>
<g id="n443"><circle class="gr" cx="74" cy="330" r="2.5"/></g>
<g id="n444"><circle class="lb" cx="59" cy="339" r="4"/></g>
<g id="n445"><circle class="gr" cx="111" cy="337" r="4"/></g>
<g id="n446"><circle class="gr" cx="94" cy="348" r="2.5"/></g>
<g id="n447"><circle class="d" cx="131" cy="332" r="2.5"/></g>
<g id="n448"><circle class="t" cx="118" cy="325" r="2.5"/></g>
<g id="n449"><circle class="t" cx="124" cy="341" r="2.5"/></g>
<g id="n450"><circle class="t" cx="149" cy="326" r="4"/></g>
<g id="n451"><circle class="pb" cx="152" cy="339" r="2.5"/></g>
<g id="n452"><circle class="pb" cx="161" cy="351" r="7"/></g>
<g id="n453"><circle class="pb" cx="114" cy="370" r="3"/></g>
<g id="n454"><circle class="pb" cx="121" cy="380" r="2.5"/></g>
<g id="n455"><circle class="pb" cx="137" cy="380" r="2.5"/></g>
<g id="n456"><circle class="pb" cx="142" cy="365" r="3"/></g>
<g id="n457"><circle class="pb" cx="154" cy="376" r="3"/></g>
<g id="n458"><circle class="pb" cx="165" cy="372" r="4"/></g>
<g id="n459"><circle class="t" cx="192" cy="316" r="5"/></g>
<g id="n460"><circle class="t" cx="206" cy="320" r="5"/></g>
<g id="n461"><circle class="o" cx="219" cy="323" r="3"/></g>
<g id="n462"><circle class="t" cx="186" cy="334" r="2.5"/></g>
<g id="n463"><circle class="g" cx="228" cy="344" r="4"/></g>
<g id="n464"><circle class="t" cx="234" cy="358" r="5"/></g>
<g id="n465"><circle class="t" cx="233" cy="383" r="5"/></g>
<g id="n466"><circle class="g" cx="201" cy="373" r="2.5"/></g>
<g id="n467"><circle class="g" cx="209" cy="378" r="4"/></g>
<g id="n468"><circle class="t" cx="222" cy="388" r="2.5"/></g>
<g id="n469"><circle class="t" cx="210" cy="392" r="2.5"/></g>
<g id="n470"><circle class="g" cx="258" cy="384" r="2.5"/></g>
<g id="n471"><circle class="t" cx="255" cy="313" r="7"/></g>
<g id="n472"><circle class="t" cx="243" cy="299" r="6"/></g>
<g id="n473"><circle class="t" cx="242" cy="330" r="2.5"/></g>
<g id="n474"><circle class="t" cx="244" cy="350" r="2.5"/></g>
<g id="n475"><circle class="t" cx="225" cy="305" r="2.5"/></g>
<g id="n476"><circle class="t" cx="216" cy="290" r="2.5"/></g>
<g id="n477"><circle class="t" cx="265" cy="328" r="2.5"/></g>
<g id="n478"><circle class="t" cx="270" cy="318" r="3"/></g>
<g id="n479"><circle class="t" cx="160" cy="238" r="2.5"/></g>
<g id="n480"><circle class="t" cx="137" cy="262" r="2.5"/></g>
<g id="n481"><circle class="t" cx="131" cy="271" r="2.5"/></g>
<g id="n482"><circle class="t" cx="244" cy="283" r="3"/></g>
<g id="n483"><circle class="t" cx="238" cy="318" r="2.5"/></g>
<g id="n484"><circle class="t" cx="222" cy="330" r="2.5"/></g>
<g id="n485"><circle class="t" cx="212" cy="335" r="2.5"/></g>
<g id="n486"><circle class="t" cx="252" cy="343" r="2.5"/></g>
<g id="n491"><circle class="gr" cx="333" cy="297" r="2.5"/></g>
<g id="n492"><circle class="pb" cx="328" cy="306" r="3"/></g>
<g id="n494"><circle class="br" cx="379" cy="320" r="2.5"/></g>
<g id="n495"><circle class="lv" cx="394" cy="316" r="2.5"/></g>
<g id="n496"><circle class="pb" cx="329" cy="322" r="3"/></g>
<g id="n497"><circle class="t" cx="319" cy="327" r="5"/></g>
<g id="n498"><circle class="g" cx="283" cy="333" r="2.5"/></g>
<g id="n499"><circle class="g" cx="292" cy="335" r="2.5"/></g>
<g id="n500"><circle class="gr" cx="298" cy="332" r="2.5"/></g>
<g id="n501"><circle class="lm" cx="307" cy="329" r="2.5"/></g>
<g id="n502"><circle class="lb" cx="272" cy="323" r="2.5"/></g>
<g id="n503"><circle class="t" cx="263" cy="345" r="3"/></g>
<g id="n505"><circle class="r" cx="356" cy="354" r="5"/></g>
<g id="n506"><circle class="t" cx="303" cy="344" r="2.5"/></g>
<g id="n507"><circle class="t" cx="311" cy="354" r="2.5"/></g>
<g id="n508"><circle class="r" cx="346" cy="361" r="2.5"/></g>
<g id="n509"><circle class="pu" cx="360" cy="371" r="3.5"/></g>
<g id="n510"><circle class="r" cx="343" cy="369" r="3.5"/></g>
<g id="n511"><circle class="r" cx="350" cy="378" r="2.5"/></g>
<g id="n512"><circle class="r" cx="312" cy="376" r="4"/></g>
<g id="n513"><circle class="r" cx="316" cy="383" r="4"/></g>
<g id="n514"><circle class="r" cx="329" cy="379" r="2.5"/></g>
<g id="n515"><circle class="t" cx="377" cy="343" r="4"/></g>
<g id="n516"><circle class="t" cx="393" cy="338" r="2.5"/></g>
<g id="n517"><circle class="t" cx="395" cy="350" r="2.5"/></g>
<g id="n518"><circle class="pb" cx="398" cy="358" r="2.5"/></g>
<g id="n519"><circle class="pb" cx="387" cy="363" r="5"/></g>
<g id="n521"><circle class="lv" cx="414" cy="357" r="7"/></g>
<g id="n522"><circle class="lv" cx="435" cy="373" r="5"/></g>
<g id="n523"><circle class="lv" cx="408" cy="384" r="2.5"/></g>
<g id="n524"><circle class="lv" cx="427" cy="381" r="2.5"/></g>
<g id="n525"><circle class="pb" cx="372" cy="384" r="2.5"/></g>
<g id="n526"><circle class="pb" cx="378" cy="387" r="2.5"/></g>
<g id="n528"><circle class="g" cx="288" cy="400" r="2.5"/></g>
<g id="n529"><circle class="br" cx="305" cy="405" r="2.5"/></g>
<g id="cataract"><circle class="m" cx="211" cy="86" r="10"/><text class="lbl" x="211" y="88">Cataract</text></g>
<g id="myopathy"><circle class="b" cx="262" cy="113" r="8"/><text class="lbl" x="262" y="115">Myopathy</text></g>
<g id="epidermolysis-bullosa"><circle class="lb" cx="163" cy="125" r="7"/><text class="lbl" x="164" y="127">Epidermolysis</text><text class="lbl" x="164" y="134">bullosa</text></g>
<g id="muscular-dystrophy"><circle class="b" cx="241" cy="125" r="10"/><text class="lbl" x="241" y="128.5">Muscular</text><text class="lbl" x="241" y="135">dystrophy</text></g>
<g id="leigh-syndrome"><circle class="r" cx="241" cy="149" r="7"/><text class="lbl" x="243" y="149">Leigh</text><text class="lbl" x="243" y="157">syndrome</text></g>
<g id="cardiomyopathy"><circle class="d" cx="292" cy="132" r="13.5"/><text class="lbl" x="292" y="135">Cardiomyopathy</text></g>
<g id="deafness"><circle class="y" cx="395" cy="117" r="15"/><text class="lbl" x="395" y="119.5">Deafness</text></g>
<g id="retinitis-pigmentosa"><circle class="m" cx="515" cy="125" r="13"/><text class="lbl" x="515" y="124">Retinitis</text><text class="lbl" x="515" y="130.5">pigmentosa</text></g>
<g id="charcot-marie-tooth"><circle class="r" cx="145" cy="173" r="11"/><text class="lbl" x="146" y="174">Charcot-Marie-Tooth</text><text class="lbl" x="146" y="181">disease</text></g>
<g id="epilepsy"><circle class="r" cx="140" cy="203" r="10"/><text class="lbl" x="140" y="205">Epilepsy</text></g>
<g id="mental-retardation"><circle class="r" cx="47" cy="224" r="12"/><text class="lbl" x="46" y="223">Mental</text><text class="lbl" x="47" y="230.5">retardation</text></g>
<g id="stroke"><circle class="d" cx="443" cy="164" r="3.5"/><text class="lbl" x="443" y="165.5">Stroke</text></g>
<g id="diabetes-mellitus"><circle class="pb" cx="363" cy="199" r="13"/><text class="lbl" x="363" y="197.5">Diabetes</text><text class="lbl" x="363" y="204.5">mellitus</text></g>
<g id="myocardial-infarction"><circle class="d" cx="455" cy="189" r="7"/><text class="lbl" x="455" y="189">Myocardial</text><text class="lbl" x="455" y="195.5">infarction</text></g>
<g id="alzheimer-disease"><circle class="r" cx="458" cy="212" r="8"/><text class="lbl" x="458" y="211">Alzheimer</text><text class="lbl" x="458" y="217.5">disease</text></g>
<g id="atherosclerosis"><circle class="d" cx="427" cy="247" r="2.5"/><text class="lbl" x="428" y="249.5">Atherosclerosis</text></g>
<g id="hypertension"><circle class="d" cx="432" cy="235" r="9"/><text class="lbl" x="432" y="238">Hypertension</text></g>
<g id="pseudohypoaldosteronism"><circle class="pb" cx="486" cy="247" r="5"/><text class="lbl" x="486" y="243">Pseudohypo-</text><text class="lbl" x="486" y="249.5">aldosteronism</text></g>
<g id="obesity"><circle class="o" cx="339" cy="228" r="11"/><text class="lbl" x="338" y="230.5">Obesity</text></g>
<g id="ataxia-telangiectasia"><circle class="lv" cx="246" cy="220" r="3"/><text class="lbl" x="243" y="214">Ataxia-</text><text class="lbl" x="246" y="221">telangiectasia</text></g>
<g id="gastric-cancer"><circle class="t" cx="200" cy="232" r="8"/><text class="lbl" x="200" y="228">Gastric</text><text class="lbl" x="200" y="235">cancer</text></g>
<g id="prostate-cancer"><circle class="t" cx="166" cy="249" r="8"/><text class="lbl" x="166" y="250">Prostate</text><text class="lbl" x="166" y="256.5">cancer</text></g>
<g id="breast-cancer"><circle class="t" cx="193" cy="262" r="10"/><text class="lbl" x="193" y="263">Breast</text><text class="lbl" x="193" y="269.5">cancer</text></g>
<g id="fanconi-anemia"><circle class="gr" cx="147" cy="271" r="9"/><text class="lbl" x="147" y="271">Fanconi</text><text class="lbl" x="147" y="277.5">anemia</text></g>
<g id="colon-cancer"><circle class="t" cx="227" cy="273" r="15"/><text class="lbl" x="227" y="270.5" font-size="7">Colon</text><text class="lbl" x="227" y="277.5">cancer</text></g>
<g id="lymphoma"><circle class="t" cx="253" cy="261" r="8"/><text class="lbl" x="255" y="264">Lymphoma</text></g>
<g id="thyroid-carcinoma"><circle class="t" cx="157" cy="307" r="8"/><text class="lbl" x="158" y="306">Thyroid</text><text class="lbl" x="159" y="313">carcinoma</text></g>
<g id="asthma"><circle class="tn" cx="409" cy="260" r="8"/><text class="lbl" x="410" y="262">Asthma</text></g>
<g id="leukemia"><circle class="t" cx="291" cy="301" r="16"/><text class="lbl" x="292" y="303">Leukemia</text></g>
<g id="parkinson-disease"><circle class="r" cx="364" cy="300" r="8"/><text class="lbl" x="364" y="299">Parkinson</text><text class="lbl" x="364" y="305.5">disease</text></g>
<g id="hirschsprung-disease"><circle class="lv" cx="462" cy="290" r="3"/><text class="lbl" x="461" y="287">Hirschsprung</text><text class="lbl" x="462" y="294">disease</text></g>
<g id="blood-group"><circle class="g" cx="484" cy="326" r="9"/><text class="lbl" x="486" y="326">Blood</text><text class="lbl" x="485" y="333">group</text></g>
<g id="spherocytosis"><circle class="g" cx="509" cy="338" r="6"/><text class="lbl" x="518" y="340">Spherocytosis</text></g>
<g id="hemolytic-anemia"><circle class="g" cx="483" cy="358" r="7"/><text class="lbl" x="482" y="355">Hemolytic</text><text class="lbl" x="485" y="362">anemia</text></g>
<g id="spinocerebellar-ataxia"><circle class="r" cx="332" cy="348" r="8"/><text class="lbl" x="330" y="349">Spinocerebellar</text><text class="lbl" x="332" y="355.5">ataxia</text></g>
<g id="complement-component-deficiency"><circle class="lv" cx="386" cy="403" r="9"/><text class="lbl" x="386" y="403">Complement  component</text><text class="lbl" x="386" y="409.5">deficiency</text></g>
</g>
<g id="legend">
<rect x="656" y="70" width="107" height="249" fill="#e8e8e8" stroke="#c4c4c4" stroke-width="1"/>
<rect x="656" y="70" width="107" height="22" fill="#a2a2a2"/>
<text x="709.5" y="86" font-family="'Liberation Sans',Arial,sans-serif" font-weight="bold" font-size="12.5" fill="#fff" text-anchor="middle">Node size</text>
<circle class="lc" cx="693" cy="119" r="15"/><text class="ln" x="731" y="122.5">41</text>
<circle class="lc" cx="693" cy="152" r="13.5"/><text class="ln" x="731" y="155.5">34</text>
<circle class="lc" cx="693" cy="180" r="12.8"/><text class="ln" x="731" y="183.5">30</text>
<circle class="lc" cx="693" cy="209" r="11.8"/><text class="ln" x="731" y="212.5">25</text>
<circle class="lc" cx="693" cy="237" r="10.5"/><text class="ln" x="731" y="240.5">21</text>
<circle class="lc" cx="693" cy="260" r="9"/><text class="ln" x="731" y="263.5">15</text>
<circle class="lc" cx="693" cy="279" r="7.2"/><text class="ln" x="731" y="282.5">10</text>
<circle class="lc" cx="693" cy="295" r="5"/><text class="ln" x="731" y="298">5</text>
<circle class="lc" cx="693" cy="308" r="2.2"/><text class="ln" x="731" y="311">1</text>
</g>
</svg>
